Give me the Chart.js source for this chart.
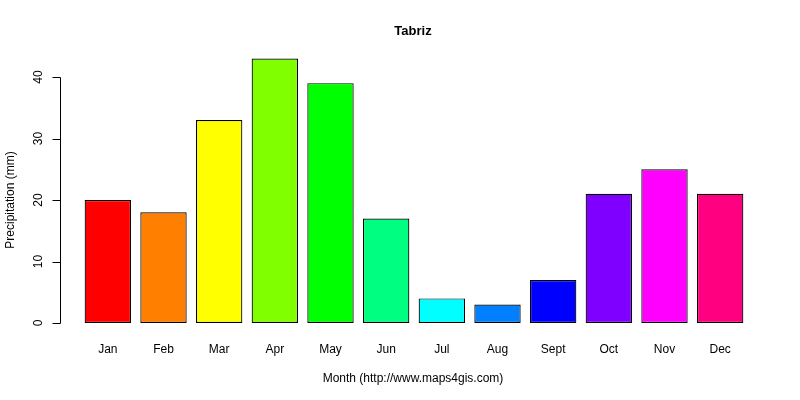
<!DOCTYPE html>
<html>
<head>
<meta charset="utf-8">
<script src="https://cdn.jsdelivr.net/npm/chart.js@4/dist/chart.umd.min.js"></script>
<style>
  html, body { margin: 0; padding: 0; background: #fff; }
  canvas { display: block; }
</style>
</head>
<body>
<canvas id="rainChart" width="800" height="400"></canvas>
<script>
const months = ['Jan', 'Feb', 'Mar', 'Apr', 'May', 'Jun', 'Jul', 'Aug', 'Sept', 'Oct', 'Nov', 'Dec'];
const precipitation = [20, 18, 33, 43, 39, 17, 4, 3, 7, 21, 25, 21];
const barColors = ['#FF0000', '#FF8000', '#FFFF00', '#80FF00', '#00FF00', '#00FF80',
                   '#00FFFF', '#0080FF', '#0000FF', '#8000FF', '#FF00FF', '#FF0080'];
const yTicks = [0, 10, 20, 30, 40];

const chartTitle = 'Tabriz';
const xTitle = 'Month (http://www.maps4gis.com)';
const yTitle = 'Precipitation (mm)';
const font = '"Liberation Sans", Arial, sans-serif';

// R-style axes, labels and title drawn on top of the bars
const baseAxes = {
    id: 'baseAxes',
    afterDraw(chart) {
        const ctx = chart.ctx;
        const x = chart.scales.x;
        const y = chart.scales.y;
        ctx.save();
        ctx.fillStyle = '#000';
        ctx.strokeStyle = '#000';
        ctx.lineWidth = 1;

        // y axis line + ticks
        const axisX = 60.5;
        ctx.beginPath();
        ctx.moveTo(axisX, Math.round(y.getPixelForValue(yTicks[0])) + 0.5);
        ctx.lineTo(axisX, Math.round(y.getPixelForValue(yTicks[yTicks.length - 1])) + 0.5);
        yTicks.forEach(t => {
            const py = Math.round(y.getPixelForValue(t)) + 0.5;
            ctx.moveTo(axisX, py);
            ctx.lineTo(axisX - 8, py);
        });
        ctx.stroke();

        // rotated y tick labels
        ctx.font = '12px ' + font;
        ctx.textAlign = 'center';
        ctx.textBaseline = 'middle';
        yTicks.forEach(t => {
            ctx.save();
            ctx.translate(39, y.getPixelForValue(t));
            ctx.rotate(-Math.PI / 2);
            ctx.fillText(String(t), 0, 0);
            ctx.restore();
        });

        // y title
        ctx.save();
        ctx.translate(11, (y.getPixelForValue(0) + y.getPixelForValue(40)) / 2);
        ctx.rotate(-Math.PI / 2);
        ctx.fillText(yTitle, 0, 0);
        ctx.restore();

        // month labels
        months.forEach((m, i) => {
            ctx.fillText(m, x.getPixelForValue(i), 349.5);
        });

        // x title
        ctx.fillText(xTitle, (x.left + x.right) / 2 - 1, 378.5);

        // main title
        ctx.font = 'bold 13px ' + font;
        ctx.fillText(chartTitle, (x.left + x.right) / 2 - 1, 31.5);
        ctx.restore();
    }
};

new Chart(document.getElementById('rainChart').getContext('2d'), {
    type: 'bar',
    data: {
        labels: months,
        datasets: [{
            label: yTitle,
            data: precipitation,
            backgroundColor: barColors,
            borderColor: '#000',
            borderWidth: 1.2,
            borderSkipped: false,
            categoryPercentage: 1,
            barPercentage: 0.833
        }]
    },
    options: {
        responsive: false,
        animation: false,
        devicePixelRatio: 1,
        layout: { padding: { left: 80, right: 52, top: 48, bottom: 77 } },
        plugins: {
            legend: { display: false },
            title: { display: false },
            tooltip: { enabled: false }
        },
        scales: {
            x: { display: false },
            y: { display: false, min: 0, max: 44.72 }
        }
    },
    plugins: [baseAxes]
});
</script>
</body>
</html>
